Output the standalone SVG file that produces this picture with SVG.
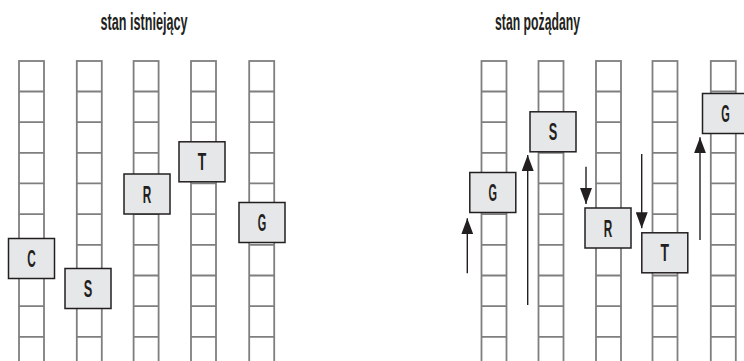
<svg xmlns="http://www.w3.org/2000/svg" width="744" height="361" viewBox="0 0 744 361">
<style>
.col{fill:#fff;stroke:#7f7f7f;stroke-width:1.8}
.row{stroke:#7f7f7f;stroke-width:1.8}
.box{fill:#e6e7e8;stroke:#231f20;stroke-width:1.5}
.lbl{font-family:"Liberation Sans",Arial,sans-serif;font-weight:bold;font-size:24px;fill:#231f20;text-anchor:middle}
.title{font-family:"Liberation Sans",Arial,sans-serif;font-weight:bold;font-size:24px;fill:#231f20}
.arr{stroke:#231f20;stroke-width:1.4;fill:none;marker-end:url(#ah)}
</style>
<defs>
<marker id="ah" viewBox="0 0 16 12" refX="16" refY="6" markerWidth="16" markerHeight="12" orient="auto" markerUnits="userSpaceOnUse">
<path d="M0,0 L16,6 L0,12 Z" fill="#231f20"/>
</marker>
<g id="ladder">
<rect class="col" x="0" y="61" width="25" height="310"/>
<path class="row" d="M0,91.5H25M0,122.2H25M0,152.8H25M0,183.4H25M0,214.1H25M0,244.8H25M0,275.5H25M0,306.2H25M0,336.8H25"/>
</g>
</defs>
<rect width="744" height="361" fill="#fff"/>
<text class="title" x="100.5" y="29.5" textLength="87" lengthAdjust="spacingAndGlyphs">stan istniejący</text>
<text class="title" x="495" y="29.5" textLength="85" lengthAdjust="spacingAndGlyphs">stan pożądany</text>
<g id="columns-left">
<use href="#ladder" x="19"/>
<use href="#ladder" x="76.8"/>
<use href="#ladder" x="133.6"/>
<use href="#ladder" x="191"/>
<use href="#ladder" x="249.2"/>
</g>
<g id="columns-right">
<use href="#ladder" x="481.5"/>
<use href="#ladder" x="538.5"/>
<use href="#ladder" x="596"/>
<use href="#ladder" x="652.5"/>
<use href="#ladder" x="710.8"/>
</g>
<g id="connectors">
<line class="arr" x1="467.3" y1="273.3" x2="467.3" y2="218.3"/>
<line class="arr" x1="527.7" y1="305" x2="527.7" y2="155"/>
<line class="arr" x1="586" y1="166.7" x2="586" y2="204"/>
<line class="arr" x1="641.7" y1="154" x2="641.7" y2="228.3"/>
<line class="arr" x1="700" y1="240" x2="700" y2="137.3"/>
</g>
<g id="L-C"><rect class="box" x="8.5" y="238.5" width="46" height="40"/><text class="lbl" x="31.5" y="267" textLength="8.5" lengthAdjust="spacingAndGlyphs">C</text></g>
<g id="L-S"><rect class="box" x="65" y="268.5" width="46" height="40"/><text class="lbl" x="88" y="297" textLength="8.5" lengthAdjust="spacingAndGlyphs">S</text></g>
<g id="L-R"><rect class="box" x="124" y="174" width="46" height="40"/><text class="lbl" x="147" y="202.5" textLength="8.5" lengthAdjust="spacingAndGlyphs">R</text></g>
<g id="L-T"><rect class="box" x="179" y="141.8" width="46" height="40"/><text class="lbl" x="202" y="170.3" textLength="8.5" lengthAdjust="spacingAndGlyphs">T</text></g>
<g id="L-G"><rect class="box" x="239" y="202.5" width="46" height="40"/><text class="lbl" x="262" y="231" textLength="8.5" lengthAdjust="spacingAndGlyphs">G</text></g>
<g id="R-G1"><rect class="box" x="469.8" y="172.5" width="46" height="40"/><text class="lbl" x="492.8" y="201" textLength="8.5" lengthAdjust="spacingAndGlyphs">G</text></g>
<g id="R-S"><rect class="box" x="530" y="111.8" width="46" height="40"/><text class="lbl" x="553" y="140.3" textLength="8.5" lengthAdjust="spacingAndGlyphs">S</text></g>
<g id="R-R"><rect class="box" x="585" y="208" width="46" height="40"/><text class="lbl" x="608" y="236.5" textLength="8.5" lengthAdjust="spacingAndGlyphs">R</text></g>
<g id="R-T"><rect class="box" x="641.8" y="232.8" width="46" height="40"/><text class="lbl" x="664.8" y="261.3" textLength="8.5" lengthAdjust="spacingAndGlyphs">T</text></g>
<g id="R-G2"><rect class="box" x="702.5" y="93.5" width="46" height="40"/><text class="lbl" x="725.5" y="122" textLength="8.5" lengthAdjust="spacingAndGlyphs">G</text></g>
</svg>
